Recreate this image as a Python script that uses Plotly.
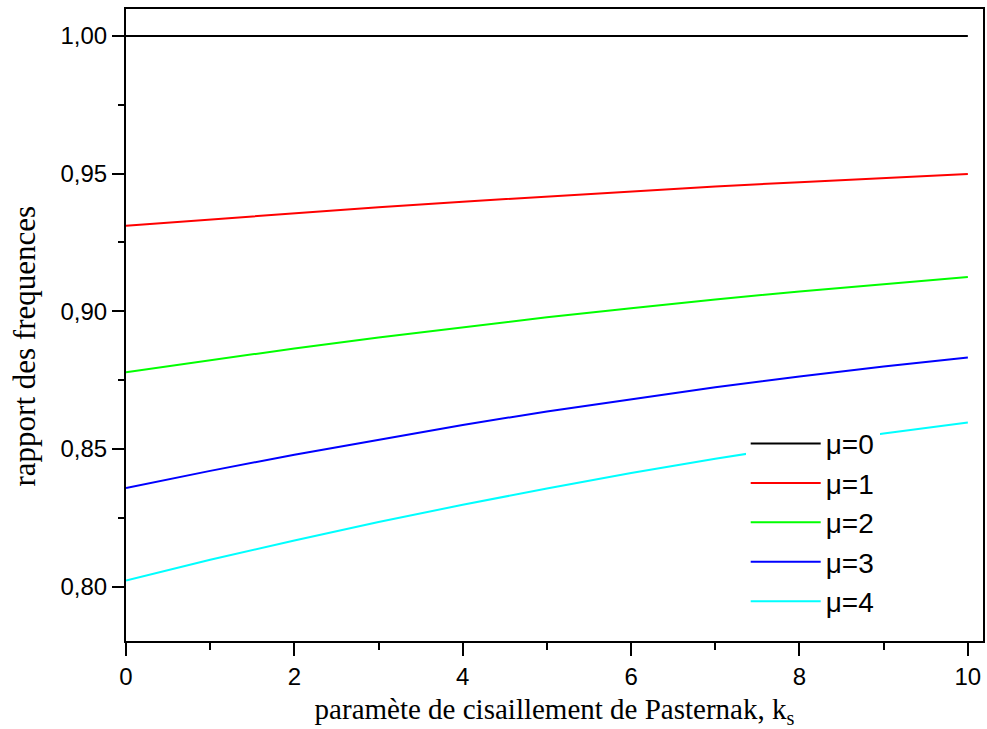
import plotly.graph_objects as go

ks = [0, 1, 2, 3, 4, 5, 6, 7, 8, 9, 10]
mu0 = [1.0, 1.0, 1.0, 1.0, 1.0, 1.0, 1.0, 1.0, 1.0, 1.0, 1.0]
mu1 = [0.9311, 0.9334, 0.9356, 0.9378, 0.9398, 0.9417, 0.9436, 0.9453, 0.9469, 0.9484, 0.9499]
mu2 = [0.8778, 0.8822, 0.8865, 0.8905, 0.8942, 0.8978, 0.9011, 0.9043, 0.9072, 0.9099, 0.9124]
mu3 = [0.8358, 0.8420, 0.8479, 0.8534, 0.8587, 0.8636, 0.8681, 0.8724, 0.8763, 0.8799, 0.8832]
mu4 = [0.8022, 0.8097, 0.8167, 0.8234, 0.8297, 0.8356, 0.8412, 0.8464, 0.8512, 0.8556, 0.8596]

names = ["μ=0", "μ=1", "μ=2", "μ=3", "μ=4"]
series = [mu0, mu1, mu2, mu3, mu4]
colors = ["#000000", "#ff0000", "#00ff00", "#0000ff", "#00ffff"]

x_ticks = [0, 2, 4, 6, 8, 10]
y_ticks = [0.80, 0.85, 0.90, 0.95, 1.00]

x_title = "paramète de cisaillement de Pasternak, k<sub>s</sub>"
y_title = "rapport des frequences"

fig = go.Figure()
for name, ys, c in zip(names, series, colors):
    fig.add_trace(go.Scatter(x=ks, y=ys, mode="lines", name=name,
                             line=dict(color=c, width=2)))

fig.update_layout(
    width=987, height=729,
    margin=dict(l=126, r=2, t=9, b=88),
    paper_bgcolor="white", plot_bgcolor="white",
    separators=", ",
    showlegend=True,
    legend=dict(x=0.7231, y=0.3515, xanchor="left", yanchor="top",
                bgcolor="white", borderwidth=0,
                font=dict(family="Liberation Sans, Arial", size=28, color="black"),
                itemwidth=70, tracegroupgap=0),
    font=dict(family="Liberation Sans, Arial", color="black"),
    annotations=[dict(text=y_title, xref="paper", yref="paper",
                      x=-0.1184, y=0.4668, xanchor="center", yanchor="middle",
                      textangle=-90, showarrow=False,
                      font=dict(family="Liberation Serif, Times New Roman", size=31, color="black"))],
)

fig.update_xaxes(
    range=[0, 10.18], tickvals=x_ticks, showgrid=False, zeroline=False,
    showline=True, linecolor="black", linewidth=2, mirror=True,
    ticks="outside", ticklen=13, tickwidth=2, tickcolor="black",
    tickfont=dict(family="Liberation Sans, Arial", size=24, color="black"),
    minor=dict(dtick=1, ticks="outside", ticklen=7, tickwidth=2, tickcolor="black", showgrid=False),
    title=dict(text=x_title,
               font=dict(family="Liberation Serif, Times New Roman", size=29, color="black"),
               standoff=10),
)
fig.update_yaxes(
    range=[0.7802, 1.0098], tickvals=y_ticks, tickformat=".2f", showgrid=False, zeroline=False,
    showline=True, linecolor="black", linewidth=2, mirror=True,
    ticks="outside", ticklen=12, tickwidth=2, tickcolor="black",
    tickfont=dict(family="Liberation Sans, Arial", size=24, color="black"),
    minor=dict(dtick=0.025, ticks="outside", ticklen=6, tickwidth=2, tickcolor="black", showgrid=False),
)

fig.write_html("out.html")
